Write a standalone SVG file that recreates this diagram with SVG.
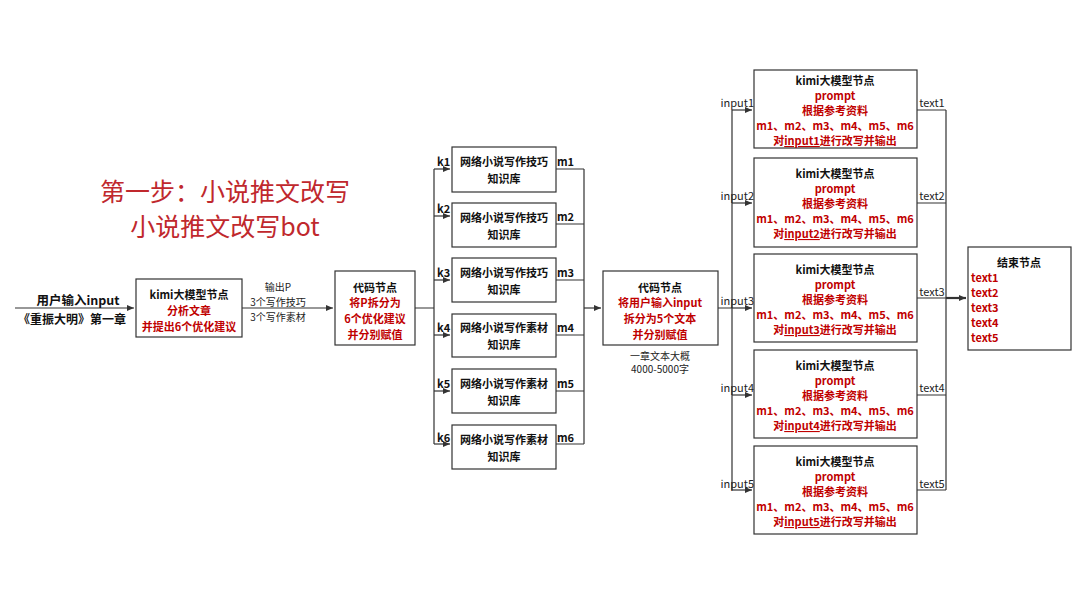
<svg xmlns="http://www.w3.org/2000/svg" width="1080" height="600" viewBox="0 0 1080 600">
<style>
text{font-family:"Noto Sans CJK SC","Noto Sans",sans-serif;font-size:11px;text-anchor:middle;dominant-baseline:central}
.b{font-weight:bold;fill:#111}
.r{font-weight:bold;fill:#c00000}
.n{fill:#222;font-size:10px}
.l{fill:#222;font-size:11px}
.in{fill:#222;font-size:11px;text-anchor:end}
.k{font-weight:bold;fill:#111;text-anchor:start}
.title{fill:#c0282d;font-size:25px}
rect{fill:#fff;stroke:#333;stroke-width:1.2}
.c{fill:none;stroke:#333;stroke-width:1.2}
</style>
<defs><marker id="a" markerWidth="8" markerHeight="8" refX="7" refY="4" orient="auto" markerUnits="userSpaceOnUse"><path d="M0,1 L7,4 L0,7z" fill="#333"/></marker></defs>
<rect x="0" y="0" width="1080" height="600" style="fill:#fff;stroke:none"/>
<text class="title" x="225" y="190">第一步：小说推文改写</text>
<text class="title" x="225" y="225">小说推文改写bot</text>

<g id="connectors">
<path class="c" d="M15,308 H134" marker-end="url(#a)"/>
<path class="c" d="M242,308 H333" marker-end="url(#a)"/>
<path class="c" d="M415,308 H434 M434,169 V444"/>
<path class="c" d="M434,169 H450" marker-end="url(#a)"/>
<path class="c" d="M434,216 H450" marker-end="url(#a)"/>
<path class="c" d="M434,280 H450" marker-end="url(#a)"/>
<path class="c" d="M434,335 H450" marker-end="url(#a)"/>
<path class="c" d="M434,391 H450" marker-end="url(#a)"/>
<path class="c" d="M434,444 H450" marker-end="url(#a)"/>
<path class="c" d="M556,169 H584 M556,224 H584 M556,280 H584 M556,335 H584 M556,391 H584 M556,444 H584 M584,169 V444"/>
<path class="c" d="M584,308 H601" marker-end="url(#a)"/>
<path class="c" d="M718,308 H732 M732,110 V490"/>
<path class="c" d="M732,110 H752" marker-end="url(#a)"/>
<path class="c" d="M732,203 H752" marker-end="url(#a)"/>
<path class="c" d="M732,308 H752" marker-end="url(#a)"/>
<path class="c" d="M732,395 H752" marker-end="url(#a)"/>
<path class="c" d="M732,490 H752" marker-end="url(#a)"/>
<path class="c" d="M917,110 H946 M917,203 H946 M917,298 H946 M917,395 H946 M917,490 H946 M946,110 V490"/>
<path class="c" d="M946,298 H966" style="stroke-width:2.2" marker-end="url(#a)"/>
<g>
<text class="n" x="278" y="286">输出P</text>
<text class="n" x="278" y="301">3个写作技巧</text>
<text class="n" x="278" y="316">3个写作素材</text>
<text class="k" x="437" y="161">k1</text><text class="k" x="437" y="208">k2</text>
<text class="k" x="437" y="272">k3</text><text class="k" x="437" y="327">k4</text>
<text class="k" x="437" y="383">k5</text><text class="k" x="437" y="437">k6</text>
<text class="k" x="557" y="161">m1</text><text class="k" x="557" y="216">m2</text>
<text class="k" x="557" y="272">m3</text><text class="k" x="557" y="327">m4</text>
<text class="k" x="557" y="383">m5</text><text class="k" x="557" y="437">m6</text>
<text class="in" x="754" y="102">input1</text><text class="in" x="754" y="195">input2</text>
<text class="in" x="754" y="300">input3</text><text class="in" x="754" y="387">input4</text>
<text class="in" x="754" y="483">input5</text>
<text class="l" x="932" y="102">text1</text><text class="l" x="932" y="195">text2</text>
<text class="l" x="932" y="291">text3</text><text class="l" x="932" y="387">text4</text>
<text class="l" x="932" y="483">text5</text>
</g>
</g>

<g id="input"><text class="b" x="78" y="299" style="font-size:12.5px">用户输入input</text><text class="b" x="72" y="318" style="font-size:12px">《重振大明》第一章</text></g>

<g id="kimi-analyze"><rect x="136" y="279" width="106" height="58"/>
<text class="b" x="189" y="294">kimi大模型节点</text><text class="r" x="189" y="310">分析文章</text><text class="r" x="189" y="326">并提出6个优化建议</text></g>

<g id="code1"><rect x="335" y="271" width="80" height="74"/>
<text class="b" x="375" y="287">代码节点</text><text class="r" x="375" y="302">将P拆分为</text><text class="r" x="375" y="318">6个优化建议</text><text class="r" x="375" y="334">并分别赋值</text></g>

<g id="kb1"><rect x="452" y="147" width="104" height="45"/><text class="b" x="504" y="161">网络小说写作技巧</text><text class="b" x="504" y="178">知识库</text></g>
<g id="kb2"><rect x="452" y="203" width="104" height="44"/><text class="b" x="504" y="217">网络小说写作技巧</text><text class="b" x="504" y="234">知识库</text></g>
<g id="kb3"><rect x="452" y="258" width="104" height="44"/><text class="b" x="504" y="272">网络小说写作技巧</text><text class="b" x="504" y="289">知识库</text></g>
<g id="kb4"><rect x="452" y="314" width="104" height="43"/><text class="b" x="504" y="327">网络小说写作素材</text><text class="b" x="504" y="344">知识库</text></g>
<g id="kb5"><rect x="452" y="369" width="104" height="44"/><text class="b" x="504" y="383">网络小说写作素材</text><text class="b" x="504" y="400">知识库</text></g>
<g id="kb6"><rect x="452" y="425" width="104" height="44"/><text class="b" x="504" y="439">网络小说写作素材</text><text class="b" x="504" y="456">知识库</text></g>

<g id="code2"><rect x="603" y="271" width="115" height="74"/>
<text class="b" x="660" y="287">代码节点</text><text class="r" x="660" y="302">将用户输入input</text><text class="r" x="660" y="318">拆分为5个文本</text><text class="r" x="660" y="334">并分别赋值</text>
<text class="n" x="660" y="355">一章文本大概</text><text class="n" x="660" y="368">4000-5000字</text></g>

<g id="kimi1"><rect x="754" y="70" width="163" height="78"/>
<text class="b" x="835" y="80">kimi大模型节点</text><text class="r" x="835" y="95">prompt</text><text class="r" x="835" y="110">根据参考资料</text><text class="r" x="835" y="125">m1、m2、m3、m4、m5、m6</text><text class="r" x="835" y="140">对<tspan text-decoration="underline">input1</tspan>进行改写并输出</text></g>
<g id="kimi2"><rect x="754" y="158" width="163" height="89"/>
<text class="b" x="835" y="173">kimi大模型节点</text><text class="r" x="835" y="188">prompt</text><text class="r" x="835" y="203">根据参考资料</text><text class="r" x="835" y="218">m1、m2、m3、m4、m5、m6</text><text class="r" x="835" y="233">对<tspan text-decoration="underline">input2</tspan>进行改写并输出</text></g>
<g id="kimi3"><rect x="754" y="254" width="163" height="88"/>
<text class="b" x="835" y="269">kimi大模型节点</text><text class="r" x="835" y="284">prompt</text><text class="r" x="835" y="299">根据参考资料</text><text class="r" x="835" y="314">m1、m2、m3、m4、m5、m6</text><text class="r" x="835" y="329">对<tspan text-decoration="underline">input3</tspan>进行改写并输出</text></g>
<g id="kimi4"><rect x="754" y="350" width="163" height="88"/>
<text class="b" x="835" y="365">kimi大模型节点</text><text class="r" x="835" y="380">prompt</text><text class="r" x="835" y="395">根据参考资料</text><text class="r" x="835" y="410">m1、m2、m3、m4、m5、m6</text><text class="r" x="835" y="425">对<tspan text-decoration="underline">input4</tspan>进行改写并输出</text></g>
<g id="kimi5"><rect x="754" y="446" width="163" height="88"/>
<text class="b" x="835" y="461">kimi大模型节点</text><text class="r" x="835" y="476">prompt</text><text class="r" x="835" y="491">根据参考资料</text><text class="r" x="835" y="506">m1、m2、m3、m4、m5、m6</text><text class="r" x="835" y="521">对<tspan text-decoration="underline">input5</tspan>进行改写并输出</text></g>

<g id="end"><rect x="968" y="247" width="103" height="103"/>
<text class="b" x="1019" y="262">结束节点</text>
<text class="r" x="971" y="277" style="text-anchor:start">text1</text><text class="r" x="971" y="292" style="text-anchor:start">text2</text><text class="r" x="971" y="307" style="text-anchor:start">text3</text><text class="r" x="971" y="322" style="text-anchor:start">text4</text><text class="r" x="971" y="337" style="text-anchor:start">text5</text></g>
</svg>
